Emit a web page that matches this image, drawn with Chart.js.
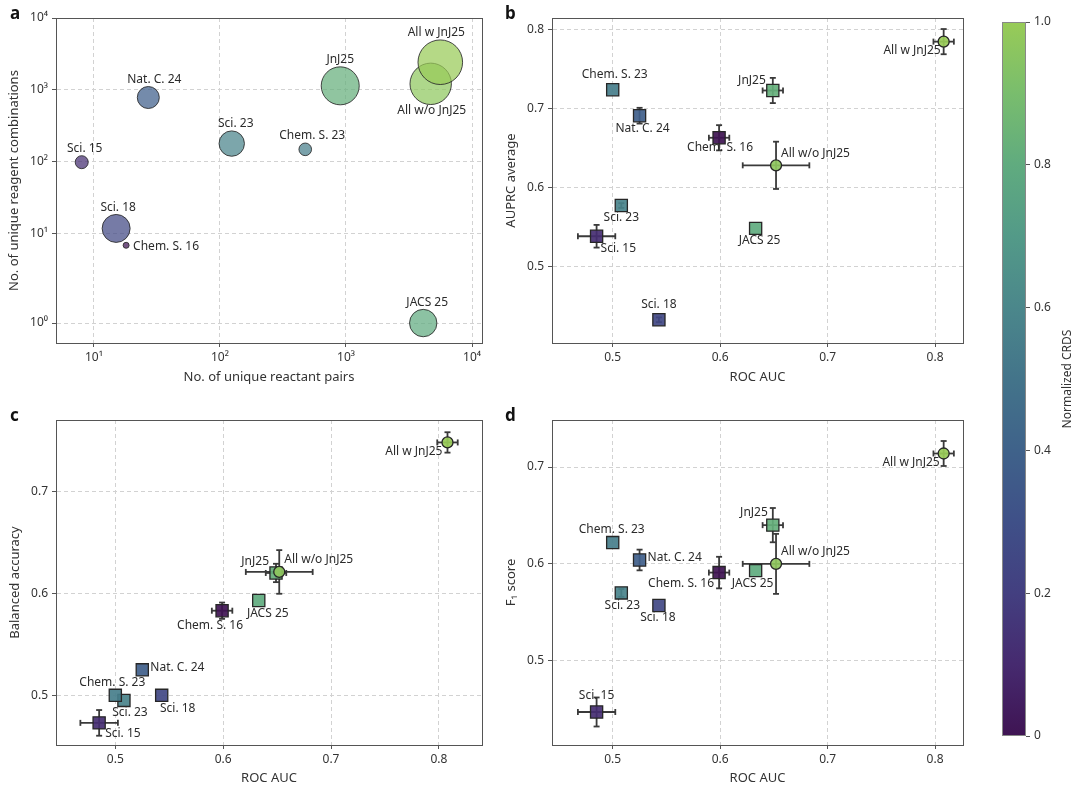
<!DOCTYPE html>
<html>
<head>
<meta charset="utf-8">
<title>Dataset size vs. model performance</title>
<script src="https://cdn.jsdelivr.net/npm/chart.js@4.4.1/dist/chart.umd.min.js"></script>
<style>
  body { margin: 0; background: #fff; }
  #page { position: relative; width: 1080px; height: 790px; overflow: hidden; }
  canvas { position: absolute; }
  .tag { position: absolute; font: 700 17px "Noto Sans", sans-serif; color: #111; line-height: 1; }
</style>
</head>
<body>
<div id="page">
  <canvas id="chartA" width="490" height="390" style="left:0;top:0"></canvas>
  <canvas id="chartB" width="480" height="390" style="left:490px;top:0"></canvas>
  <canvas id="chartC" width="490" height="400" style="left:0;top:390px"></canvas>
  <canvas id="chartD" width="480" height="400" style="left:490px;top:390px"></canvas>
  <canvas id="colorbar" width="110" height="790" style="left:970px;top:0"></canvas>
  <div class="tag" style="left:10px;top:4px">a</div>
  <div class="tag" style="left:505px;top:4px">b</div>
  <div class="tag" style="left:10px;top:406px">c</div>
  <div class="tag" style="left:505px;top:406px">d</div>
</div>
<script>
Chart.defaults.font.family = '"Noto Sans", sans-serif';
Chart.defaults.color = '#333';

// --- data ---
const datasetNames = ['Sci. 15', 'Sci. 18', 'Chem. S. 16', 'Nat. C. 24', 'Sci. 23',
                      'Chem. S. 23', 'JnJ25', 'JACS 25', 'All w/o JnJ25', 'All w JnJ25'];
const crds = [0.12, 0.25, 0.0, 0.38, 0.58, 0.55, 0.82, 0.8, 0.97, 1.0];

// panel a
const reactantPairs = [8, 15, 18, 27, 124, 475, 900, 4100, 4700, 5600];
const reagentCombos = [98, 11.7, 8.8, 780, 178, 148, 1135, 1, 1210, 2420];
const bubbleSize = [6.5, 14, 3, 11, 12.7, 6.3, 19, 13.7, 20.7, 22.3];
const xTicksA = [10, 100, 1000, 10000];
const yTicksA = [1, 10, 100, 1000, 10000];

// panels b-d
const rocAuc    = [0.485, 0.543, 0.599, 0.525, 0.508, 0.500, 0.649, 0.633, 0.652, 0.808];
const rocAucErr = [0.0174, 0, 0.0095, 0, 0, 0, 0.0095, 0, 0.031, 0.0095];
const auprc     = [0.538, 0.432, 0.663, 0.691, 0.577, 0.724, 0.723, 0.548, 0.628, 0.785];
const auprcErr  = [0.0144, 0.003, 0.016, 0.010, 0.003, 0, 0.016, 0, 0.030, 0.016];
const balAcc    = [0.473, 0.500, 0.583, 0.525, 0.495, 0.500, 0.620, 0.593, 0.621, 0.748];
const balAccErr = [0.0126, 0, 0.008, 0, 0, 0, 0.009, 0, 0.0214, 0.010];
const f1        = [0.447, 0.557, 0.591, 0.604, 0.570, 0.622, 0.640, 0.593, 0.600, 0.714];
const f1Err     = [0.015, 0, 0.0163, 0.0107, 0.004, 0, 0.0177, 0, 0.031, 0.0129];
const colorbarTicks = [0, 0.2, 0.4, 0.6, 0.8, 1.0];

// colour map sampled from the colour bar
const CMAP = [
  [0.0, [63, 20, 83]], [0.1, [70, 42, 111]], [0.2, [67, 63, 128]], [0.3, [63, 80, 136]],
  [0.4, [63, 98, 138]], [0.5, [67, 116, 138]], [0.6, [75, 135, 139]], [0.7, [83, 154, 136]],
  [0.8, [96, 171, 127]], [0.9, [121, 189, 109]], [1.0, [152, 203, 87]]
];
function crdsRgb(v) {
  for (let i = 1; i < CMAP.length; i++) {
    if (v <= CMAP[i][0]) {
      const [v0, c0] = CMAP[i - 1], [v1, c1] = CMAP[i];
      const t = (v - v0) / (v1 - v0);
      return c0.map((k, j) => Math.round(k + (c1[j] - k) * t));
    }
  }
  return CMAP[CMAP.length - 1][1];
}
const crdsColor = (v, a) => { const c = crdsRgb(v); return `rgba(${c[0]},${c[1]},${c[2]},${a})`; };

// symmetric log scale (linear below 10), like the y axis of panel a
const LINTHRESH = 10, LINSCALE = 1.389;
class SymlogScale extends Chart.LinearScale {
  static id = 'symlog';
  static defaults = { ticks: { callback: Chart.Ticks.formatters.numeric } };
  tf(v) {
    const a = Math.abs(v);
    return a <= LINTHRESH ? v / LINTHRESH * LINSCALE : Math.sign(v) * (LINSCALE + Math.log10(a / LINTHRESH));
  }
  itf(t) {
    const a = Math.abs(t);
    return a <= LINSCALE ? t / LINSCALE * LINTHRESH : Math.sign(t) * LINTHRESH * Math.pow(10, a - LINSCALE);
  }
  getPixelForValue(value) {
    const a = this.tf(this.min), b = this.tf(this.max);
    return this.getPixelForDecimal((this.tf(value) - a) / (b - a));
  }
  getValueForPixel(pixel) {
    const a = this.tf(this.min), b = this.tf(this.max);
    return this.itf(a + this.getDecimalForPixel(pixel) * (b - a));
  }
}
Chart.register(SymlogScale);

const SUP = { '0': '⁰', '1': '¹', '2': '²', '3': '³', '4': '⁴' };
const pow10 = v => '10' + String(Math.round(Math.log10(v))).split('').map(d => SUP[d]).join('');

// fixed axis boxes so the plot areas line up with the figure
const fixHeight = h => s => { s.height = h; s.paddingLeft = 0; s.paddingRight = 0; };
const fixWidth = w => s => { s.width = w; s.paddingTop = 0; s.paddingBottom = 0; };

// --- plugins ---
const frame = {
  id: 'frame',
  afterDatasetsDraw(chart) {
    const { ctx, chartArea: a } = chart;
    ctx.save();
    ctx.strokeStyle = '#555';
    ctx.lineWidth = 1;
    ctx.strokeRect(Math.round(a.left) + 0.5, Math.round(a.top) + 0.5,
                   Math.round(a.width), Math.round(a.height));
    ctx.restore();
  }
};

const errorBars = {
  id: 'errorBars',
  beforeDatasetsDraw(chart) {
    const ds = chart.data.datasets[0];
    if (!ds.xErr) return;
    const { ctx, scales: { x, y } } = chart;
    const cap = 3;
    ctx.save();
    ctx.strokeStyle = '#3a3a3a';
    ctx.lineWidth = 1.8;
    const seg = (x1, y1, x2, y2) => { ctx.beginPath(); ctx.moveTo(x1, y1); ctx.lineTo(x2, y2); ctx.stroke(); };
    ds.data.forEach((p, i) => {
      const px = x.getPixelForValue(p.x), py = y.getPixelForValue(p.y);
      const ex = ds.xErr[i], ey = ds.yErr[i];
      if (ex > 0) {
        const l = x.getPixelForValue(p.x - ex), r = x.getPixelForValue(p.x + ex);
        seg(l, py, r, py); seg(l, py - cap, l, py + cap); seg(r, py - cap, r, py + cap);
      }
      if (ey > 0) {
        const t = y.getPixelForValue(p.y + ey), b = y.getPixelForValue(p.y - ey);
        seg(px, t, px, b); seg(px - cap, t, px + cap, t); seg(px - cap, b, px + cap, b);
      }
    });
    ctx.restore();
  }
};

const pointLabels = {
  id: 'pointLabels',
  afterDatasetsDraw(chart) {
    const ds = chart.data.datasets[0];
    const meta = chart.getDatasetMeta(0);
    const ctx = chart.ctx;
    ctx.save();
    ctx.font = '12px "Noto Sans", sans-serif';
    ctx.fillStyle = '#2b2b2b';
    ctx.textBaseline = 'middle';
    meta.data.forEach((el, i) => {
      const [dx, dy, align] = ds.labelPos[i];
      ctx.textAlign = align;
      ctx.fillText(datasetNames[i], el.x + dx, el.y + dy);
    });
    ctx.restore();
  }
};

const colorbarFill = {
  id: 'colorbarFill',
  beforeDatasetsDraw(chart) {
    const { ctx, chartArea: a, scales: { y } } = chart;
    const g = ctx.createLinearGradient(0, y.getPixelForValue(0), 0, y.getPixelForValue(1));
    CMAP.forEach(([v, c]) => g.addColorStop(v, `rgb(${c[0]},${c[1]},${c[2]})`));
    ctx.save();
    ctx.fillStyle = g;
    ctx.fillRect(a.left, a.top, a.width, a.height);
    ctx.strokeStyle = '#888';
    ctx.lineWidth = 1;
    ctx.strokeRect(a.left + 0.5, a.top + 0.5, a.width - 1, a.height - 1);
    ctx.translate(98, (a.top + a.bottom) / 2);
    ctx.rotate(-Math.PI / 2);
    ctx.font = '12px "Liberation Sans Narrow", "Noto Sans", sans-serif';
    ctx.fillStyle = '#333';
    ctx.textAlign = 'center';
    ctx.textBaseline = 'middle';
    ctx.fillText('Normalized CRDS', 0, 0);
    ctx.restore();
  }
};

// --- shared style ---
const gridStyle = { color: '#d2d2d2', tickColor: '#555', tickLength: 4, tickWidth: 1 };
const borderStyle = { display: true, color: '#555', dash: [4, 3] };
const tickFont = { size: 12 };
const titleFont = { size: 13 };
const baseOptions = {
  responsive: false,
  animation: false,
  events: [],
  plugins: { legend: { display: false }, tooltip: { enabled: false } }
};

// --- panel a ---
const isTop = (dx) => [dx, 'top'];
const labelModeA = [isTop(3), isTop(2), [7, 'right'], isTop(6), isTop(4), isTop(7), isTop(0), isTop(4), [1, 'bottom'], isTop(-4)];

new Chart(document.getElementById('chartA'), {
  type: 'bubble',
  data: {
    datasets: [{
      data: datasetNames.map((n, i) => ({ x: reactantPairs[i], y: reagentCombos[i], r: bubbleSize[i] })),
      backgroundColor: crds.map(v => crdsColor(v, 0.72)),
      borderColor: 'rgba(40,40,40,0.85)',
      borderWidth: 1,
      labelPos: labelModeA.map(([dx, mode], i) => {
        const r = bubbleSize[i];
        if (mode === 'right') return [dx, 1, 'left'];
        if (mode === 'bottom') return [dx, r + 6, 'center'];
        return [dx, -(r + 7), 'center'];
      })
    }]
  },
  options: {
    ...baseOptions,
    layout: { autoPadding: false, padding: { top: 18, right: 8, left: 0, bottom: 0 } },
    scales: {
      x: {
        type: 'logarithmic', min: 5, max: 12000,
        afterBuildTicks: s => { s.ticks = xTicksA.map(value => ({ value })); },
        afterFit: fixHeight(47),
        ticks: { callback: v => pow10(v), font: tickFont, padding: 3, maxRotation: 0, autoSkip: false },
        grid: gridStyle, border: borderStyle,
        title: { display: true, text: 'No. of unique reactant pairs', font: titleFont, padding: { top: 0, bottom: 5 } }
      },
      y: {
        type: 'symlog', min: -1, max: 10000,
        afterBuildTicks: s => { s.ticks = yTicksA.map(value => ({ value })); },
        afterFit: fixWidth(56),
        ticks: { callback: v => pow10(v), font: tickFont, padding: 4, autoSkip: false },
        grid: gridStyle, border: borderStyle,
        title: { display: true, text: 'No. of unique reagent combinations', font: titleFont, padding: { top: 6, bottom: 0 } }
      }
    }
  },
  plugins: [errorBars, frame, pointLabels]
});

// --- panels b-d ---
function metricChart(id, yValues, yErr, yRange, xRange, yTitle, labelPos, box) {
  return new Chart(document.getElementById(id), {
    type: 'scatter',
    data: {
      datasets: [{
        data: datasetNames.map((n, i) => ({ x: rocAuc[i], y: yValues[i] })),
        backgroundColor: crds.map(v => crdsColor(v, 0.92)),
        borderColor: '#262626',
        borderWidth: 1.3,
        pointStyle: datasetNames.map(n => n.startsWith('All') ? 'circle' : 'rect'),
        pointRadius: datasetNames.map(n => n.startsWith('All') ? 5.5 : 8.6),
        xErr: rocAucErr,
        yErr: yErr,
        labelPos: labelPos
      }]
    },
    options: {
      ...baseOptions,
      layout: { autoPadding: false, padding: { top: box.top, right: box.right, left: 0, bottom: 0 } },
      scales: {
        x: {
          type: 'linear', min: xRange[0], max: xRange[1],
          afterFit: fixHeight(box.xHeight),
          ticks: { stepSize: 0.1, includeBounds: false, callback: v => v.toFixed(1), font: tickFont, padding: 3, maxRotation: 0 },
          grid: gridStyle, border: borderStyle,
          title: { display: true, text: 'ROC AUC', font: titleFont, padding: { top: 0, bottom: box.xTitlePad } }
        },
        y: {
          type: 'linear', min: yRange[0], max: yRange[1],
          afterFit: fixWidth(box.yWidth),
          ticks: { stepSize: 0.1, includeBounds: false, callback: v => v.toFixed(1), font: tickFont, padding: 4 },
          grid: gridStyle, border: borderStyle,
          title: { display: true, text: yTitle, font: titleFont, padding: { top: box.yTitlePad, bottom: 0 } }
        }
      }
    },
    plugins: [errorBars, frame, pointLabels]
  });
}

metricChart('chartB', auprc, auprcErr, [0.4025, 0.815], [0.4435, 0.826], 'AUPRC average', [
  [4, 12, 'left'], [0, -15, 'center'], [1, 10, 'center'], [3, 13, 'center'], [0, 12, 'center'],
  [2, -15, 'center'], [-7, -10, 'right'], [4, 12, 'center'], [5, -12, 'left'], [-3, 9, 'right']
], { top: 18, right: 7, xHeight: 47, yWidth: 62, xTitlePad: 5, yTitlePad: 13 });

metricChart('chartC', balAcc, balAccErr, [0.4513, 0.770], [0.445, 0.840], 'Balanced accuracy', [
  [6, 11, 'left'], [16, 13, 'center'], [-12, 15, 'center'], [8, -2, 'left'], [6, 12, 'center'],
  [-3, -13, 'center'], [-7, -11, 'right'], [9, 13, 'center'], [5, -12, 'left'], [-5, 9, 'right']
], { top: 30, right: 8, xHeight: 45, yWidth: 56, xTitlePad: 4, yTitlePad: 7 });

metricChart('chartD', f1, f1Err, [0.4129, 0.7486], [0.4435, 0.826], 'F\u2081 score', [
  [0, -16, 'center'], [-1, 12, 'center'], [-5, 11, 'right'], [8, -2, 'left'], [1, 13, 'center'],
  [-1, -13, 'center'], [-5, -13, 'right'], [-3, 13, 'center'], [5, -12, 'left'], [-4, 9, 'right']
], { top: 30, right: 7, xHeight: 45, yWidth: 62, xTitlePad: 4, yTitlePad: 13 });

// --- colour bar ---
new Chart(document.getElementById('colorbar'), {
  type: 'bar',
  data: { labels: [''], datasets: [{ data: [] }] },
  options: {
    ...baseOptions,
    layout: { autoPadding: false, padding: { left: 32, top: 22, bottom: 54, right: 0 } },
    scales: {
      x: { display: false },
      y: {
        position: 'right', min: 0, max: 1,
        afterBuildTicks: s => { s.ticks = colorbarTicks.map(value => ({ value })); },
        afterFit: fixWidth(54),
        ticks: { callback: v => v === 0 ? '0' : v.toFixed(1), font: tickFont, padding: 4 },
        grid: { drawOnChartArea: false, tickLength: 4, tickColor: '#555' },
        border: { display: false }
      }
    }
  },
  plugins: [colorbarFill]
});
</script>
</body>
</html>
